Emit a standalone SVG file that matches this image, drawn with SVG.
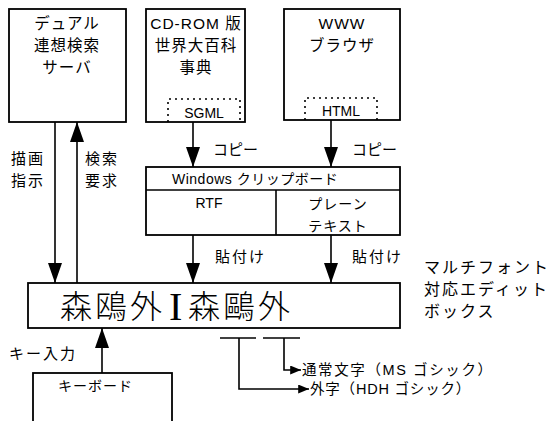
<svg xmlns="http://www.w3.org/2000/svg" width="550" height="421" viewBox="0 0 550 421">
<defs>
<style>
.box{fill:#fff;stroke:#000;stroke-width:1.8}
.ln{fill:none;stroke:#000;stroke-width:1.6}
.dot{fill:none;stroke:#000;stroke-width:1.6;stroke-dasharray:2 4}
text{font-family:"Liberation Sans","Noto Sans CJK JP",sans-serif;fill:#000}
.t{font-size:15.5px;text-anchor:middle;letter-spacing:1px}
.s{font-size:14px}
.l{font-size:15px;letter-spacing:2px}
.c{text-anchor:middle}
.big{font-size:32px;letter-spacing:3px;font-family:"Noto Sans CJK JP",sans-serif;font-weight:300}
</style>
<marker id="ah" viewBox="0 0 20 14" refX="20" refY="7" markerWidth="20" markerHeight="14" markerUnits="userSpaceOnUse" orient="auto"><path d="M0,0 L20,7 L0,14 z" fill="#000"/></marker>
<marker id="sh" viewBox="0 0 12 10" refX="12" refY="5" markerWidth="13" markerHeight="9" markerUnits="userSpaceOnUse" orient="auto"><path d="M0,0 L12,5 L0,10 z" fill="#000"/></marker>
</defs>
<g id="server">
<rect class="box" x="9" y="9" width="117" height="113"/>
<text class="t" x="67" y="29">デュアル</text>
<text class="t" x="67" y="51">連想検索</text>
<text class="t" x="67" y="73">サーバ</text>
</g>
<g id="cdrom">
<rect class="box" x="146" y="9" width="99" height="113"/>
<text class="t" x="196" y="29">CD-ROM 版</text>
<text class="t" x="196" y="51">世界大百科</text>
<text class="t" x="196" y="73">事典</text>
<path class="dot" d="M168,122 V99 H240 V122"/>
<text class="s c" x="204" y="118">SGML</text>
</g>
<g id="www">
<rect class="box" x="284" y="9" width="116" height="111"/>
<text class="t" x="342" y="29">WWW</text>
<text class="t" x="342" y="51">ブラウザ</text>
<path class="dot" d="M305,120 V98 H377 V120"/>
<text class="s c" x="341" y="116">HTML</text>
</g>
<g id="clipboard">
<rect class="box" x="146" y="167" width="254" height="68"/>
<line class="ln" x1="146" y1="190" x2="400" y2="190"/>
<line class="ln" x1="276" y1="190" x2="276" y2="235"/>
<text class="s" x="172" y="184" style="letter-spacing:0.5px">Windows クリップボード</text>
<text class="s c" x="209" y="208">RTF</text>
<text class="s c" x="338" y="209" style="letter-spacing:1px">プレーン</text>
<text class="s c" x="338" y="231" style="letter-spacing:1px">テキスト</text>
</g>
<g id="editbox">
<rect class="box" x="28" y="283" width="372" height="45"/>
<text class="big" x="60" y="318">森鴎外</text>
<text x="169" y="320" style="font-size:40px;font-family:'Liberation Serif',serif">I</text>
<text class="big" x="188" y="318">森鷗外</text>
</g>
<g id="editbox-label">
<text x="424" y="273" style="font-size:16px;letter-spacing:2px">マルチフォント</text>
<text x="424" y="295" style="font-size:16px;letter-spacing:2px">対応エディット</text>
<text x="424" y="317" style="font-size:16px;letter-spacing:2px">ボックス</text>
</g>
<g id="keyboard">
<rect class="box" x="33" y="373" width="139" height="60"/>
<text class="s" x="58" y="391" style="letter-spacing:1px">キーボード</text>
</g>
<g id="connectors">
<line class="ln" x1="55" y1="122" x2="55" y2="283" marker-end="url(#ah)"/>
<line class="ln" x1="77" y1="283" x2="77" y2="122" marker-end="url(#ah)"/>
<line class="ln" x1="193" y1="122" x2="193" y2="167" marker-end="url(#ah)"/>
<line class="ln" x1="331" y1="120" x2="331" y2="167" marker-end="url(#ah)"/>
<line class="ln" x1="193" y1="235" x2="193" y2="283" marker-end="url(#ah)"/>
<line class="ln" x1="331" y1="235" x2="331" y2="283" marker-end="url(#ah)"/>
<line class="ln" x1="102" y1="373" x2="102" y2="328" marker-end="url(#ah)"/>
<line class="ln" x1="220" y1="338" x2="256" y2="338"/>
<line class="ln" x1="263" y1="338" x2="300" y2="338"/>
<path class="ln" d="M239,338 V389 H309" marker-end="url(#sh)"/>
<path class="ln" d="M284,338 V370 H301" marker-end="url(#sh)"/>
</g>
<g id="labels">
<text class="l" x="11" y="164">描画</text>
<text class="l" x="11" y="186">指示</text>
<text class="l" x="85" y="164">検索</text>
<text class="l" x="85" y="186">要求</text>
<text class="l" x="213" y="155" style="letter-spacing:0">コピー</text>
<text class="l" x="352" y="155" style="letter-spacing:0">コピー</text>
<text class="l" x="215" y="262">貼付け</text>
<text class="l" x="352" y="262">貼付け</text>
<text class="l" x="9" y="359">キー入力</text>
<text x="302" y="375" style="font-size:14.5px;letter-spacing:1.6px">通常文字（MS ゴシック）</text>
<text x="310" y="394" style="font-size:14.5px;letter-spacing:0.8px">外字（HDH ゴシック）</text>
</g>
</svg>
